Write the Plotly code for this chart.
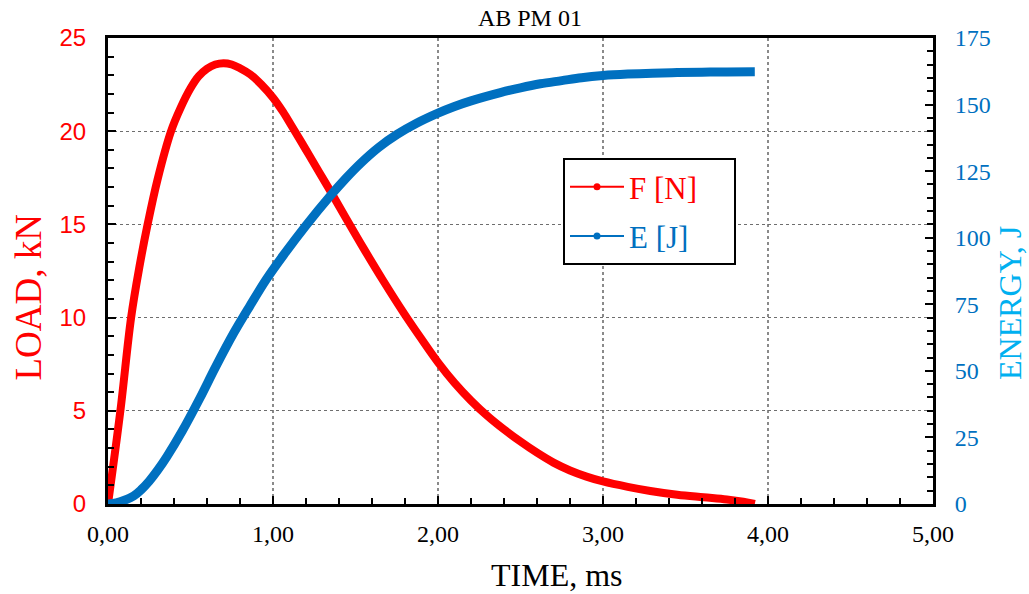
import plotly.graph_objects as go

# ---- data ----
time_f = [0.00, 0.075, 0.14, 0.19, 0.24, 0.30, 0.382, 0.44, 0.50, 0.55, 0.60, 0.65, 0.70, 0.75,
          0.80, 0.862, 0.93, 1.00, 1.06, 1.115, 1.20, 1.28, 1.347, 1.438, 1.55, 1.67, 1.796,
          1.90, 2.00, 2.10, 2.20, 2.30, 2.40, 2.50, 2.60, 2.70, 2.80, 2.90, 3.00, 3.15,
          3.287, 3.45, 3.61, 3.75, 3.85, 3.92]
load_kn = [0.0, 5.0, 10.0, 12.7, 15.0, 17.4, 20.0, 21.25, 22.3, 22.95, 23.35, 23.58, 23.65, 23.58,
           23.38, 23.05, 22.5, 21.8, 21.05, 20.25, 19.0, 17.8, 16.8, 15.4, 13.7, 11.95, 10.2,
           8.85, 7.6, 6.5, 5.55, 4.72, 4.0, 3.35, 2.75, 2.22, 1.8, 1.47, 1.21, 0.92,
           0.70, 0.50, 0.36, 0.24, 0.12, 0.0]

time_e = [0.00, 0.05, 0.10, 0.155, 0.20, 0.25, 0.30, 0.357, 0.45, 0.559, 0.65, 0.761, 0.862,
          0.96, 1.064, 1.20, 1.347, 1.44, 1.53, 1.64, 1.752, 1.87, 2.00, 2.10, 2.20, 2.378,
          2.50, 2.62, 2.75, 2.87, 3.00, 3.15, 3.30, 3.45, 3.60, 3.75, 3.92]
energy_j = [0.0, 0.4, 1.4, 3.0, 5.3, 8.6, 12.6, 17.8, 27.4, 40.0, 51.2, 64.1, 74.6,
            84.4, 93.5, 104.6, 115.7, 122.2, 127.9, 133.9, 138.8, 143.0, 146.8, 149.3, 151.4, 154.5,
            156.3, 157.8, 159.0, 160.1, 160.9, 161.45, 161.8, 162.0, 162.15, 162.25, 162.3]

names = ["F [N]", "E [J]"]
title_text = "AB PM 01"
x_title = "TIME, ms"
y_title = "LOAD, kN"
y2_title = "ENERGY, J"

RED = "#FF0000"
BLUE = "#0070C0"
LBLUE = "#00B0F0"
SERIF = "Liberation Serif, Times New Roman, serif"
SANS = "Liberation Sans, Arial, sans-serif"

# plot area in pixels (for placing titles)
L, R, T, B = 108, 933, 38, 504
PW, PH = R - L, B - T

fig = go.Figure()
fig.add_trace(go.Scatter(x=time_f, y=load_kn, mode="lines",
                         line=dict(color=RED, width=8, shape="spline", smoothing=1.0),
                         showlegend=False, hoverinfo="skip"))
fig.add_trace(go.Scatter(x=time_e, y=energy_j, mode="lines", yaxis="y2",
                         line=dict(color=BLUE, width=9, shape="spline", smoothing=1.0),
                         showlegend=False, hoverinfo="skip"))
# legend entries
pad = "&nbsp;" * 4
fig.add_trace(go.Scatter(x=[None], y=[None], mode="lines+markers", legendgroup="a",
                         name=f"<span style='color:{RED}'>{names[0]}</span>{pad}",
                         line=dict(color=RED, width=2), marker=dict(color=RED, size=7)))
fig.add_trace(go.Scatter(x=[None], y=[None], mode="lines+markers", legendgroup="b", yaxis="y2",
                         name=f"<span style='color:{BLUE}'>{names[1]}</span>{pad}",
                         line=dict(color=BLUE, width=2), marker=dict(color=BLUE, size=7)))

fig.update_layout(
    width=1029, height=594,
    margin=dict(l=L, r=1029 - R, t=T, b=594 - B, autoexpand=False),
    paper_bgcolor="white", plot_bgcolor="white",
    separators=",.",
    title=dict(text=title_text, x=0.515, xref="container", xanchor="center",
               y=1 - 18 / 594, yref="container", yanchor="middle",
               font=dict(family=SERIF, size=24, color="black")),
    xaxis=dict(range=[0, 5], dtick=1, tick0=0, tickformat=".2f",
               showline=True, linecolor="black", linewidth=3, mirror=True,
               ticks="inside", ticklen=8, tickwidth=2, tickcolor="black",
               minor=dict(dtick=0.2, ticks="inside", ticklen=6, tickwidth=2, tickcolor="black", showgrid=False),
               showgrid=True, gridcolor="#8a8a8a", gridwidth=1.5, griddash="dot",
               zeroline=False, automargin=False, ticklabelstandoff=6,
               tickfont=dict(family=SERIF, size=24, color="black")),
    yaxis=dict(range=[0, 25], dtick=5, tick0=0,
               showline=True, linecolor="black", linewidth=3,
               ticks="inside", ticklen=8, tickwidth=2, tickcolor="black",
               minor=dict(dtick=1, ticks="inside", ticklen=6, tickwidth=2, tickcolor="black", showgrid=False),
               showgrid=True, gridcolor="#6e6e6e", gridwidth=1, griddash="dot",
               zeroline=False, automargin=False, ticklabelstandoff=14,
               tickfont=dict(family=SANS, size=24, color=RED)),
    yaxis2=dict(range=[0, 175], dtick=25, tick0=0, overlaying="y", side="right",
                showline=True, linecolor="black", linewidth=3,
                ticks="inside", ticklen=8, tickwidth=2, tickcolor="black",
                minor=dict(dtick=5, ticks="inside", ticklen=6, tickwidth=2, tickcolor="black", showgrid=False),
                showgrid=False, zeroline=False, automargin=False, ticklabelstandoff=14,
                tickfont=dict(family=SERIF, size=24, color=BLUE)),
    legend=dict(x=(563 - L) / PW, y=(B - 158) / PH, xanchor="left", yanchor="top",
                bgcolor="white", bordercolor="black", borderwidth=2,
                font=dict(family=SERIF, size=31, color="black"),
                tracegroupgap=6, itemwidth=54),
    annotations=[
        dict(text=y_title, textangle=-90, xref="paper", yref="paper",
             x=(27.5 - L) / PW, y=(B - 298) / PH, xanchor="center", yanchor="middle", showarrow=False,
             font=dict(family=SERIF, size=37, color=RED)),
        dict(text=y2_title, textangle=-90, xref="paper", yref="paper",
             x=(1010 - L) / PW, y=(B - 303) / PH, xanchor="center", yanchor="middle", showarrow=False,
             font=dict(family=SERIF, size=32, color=LBLUE)),
        dict(text=x_title, xref="paper", yref="paper",
             x=(557 - L) / PW, y=(B - 575) / PH, xanchor="center", yanchor="middle", showarrow=False,
             font=dict(family=SERIF, size=32, color="black")),
    ],
)

fig.write_html("out.html")
